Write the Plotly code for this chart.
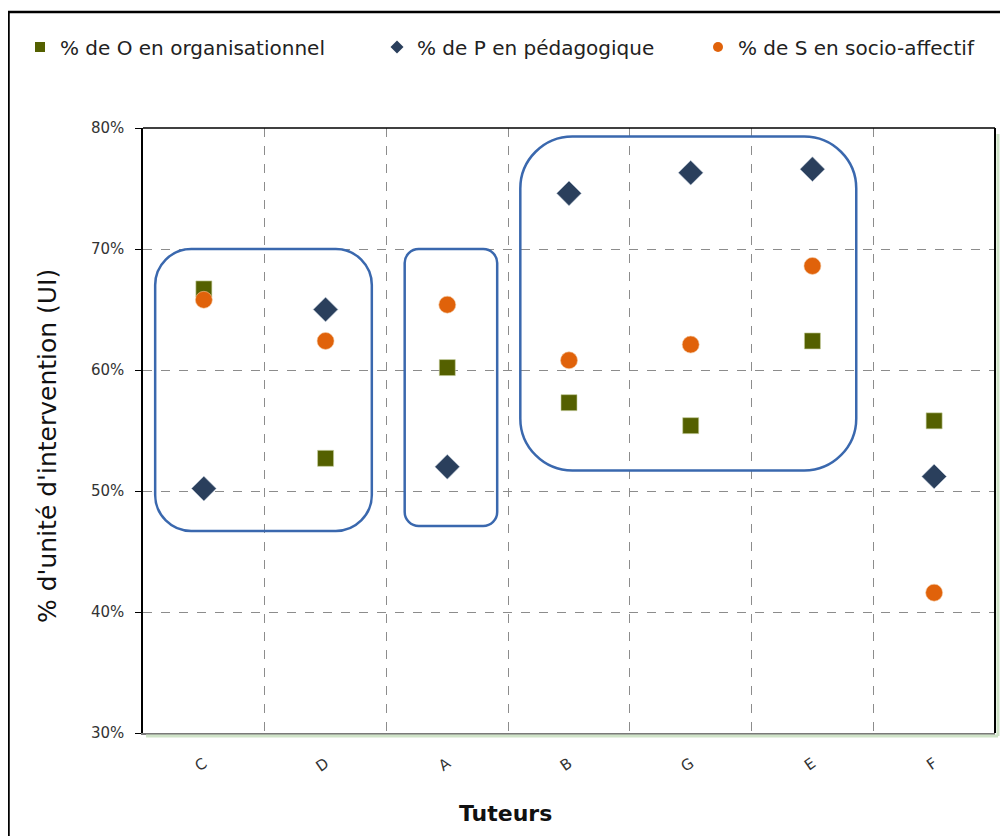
import plotly.graph_objects as go

# Tuteurs and percentages of intervention units
tuteurs = ["C", "D", "A", "B", "G", "E", "F"]
pct_organisationnel = [66.7, 52.7, 60.2, 57.3, 55.4, 62.4, 55.8]
pct_pedagogique = [50.2, 65.0, 52.0, 74.6, 76.3, 76.6, 51.2]
pct_socio_affectif = [65.8, 62.4, 65.4, 60.8, 62.1, 68.6, 41.6]

series_names = ["% de O en organisationnel", "% de P en pédagogique", "% de S en socio-affectif"]

# groups circled on the chart: (left, right in category index, bottom %, top %, corner radius px)
groups = [(-0.40, 1.38, 46.7, 70.0, 36), (1.65, 2.41, 47.1, 70.0, 14), (2.60, 5.36, 51.7, 79.3, 52)]

# page has an 8px body margin, so the figure is drawn 8px smaller
W, H = 1000, 828
L, R, T, B = 135, 13, 120, 103
PW, PH = W - L - R, H - T - B
px_x = PW / 7.0
px_y = PH / 50.0


def rounded_rect(x0, x1, y0, y1, r):
    rx, ry = r / px_x, r / px_y
    k = 0.45
    return (f"M {x0+rx},{y1} L {x1-rx},{y1} "
            f"C {x1-rx*k},{y1} {x1},{y1-ry*k} {x1},{y1-ry} "
            f"L {x1},{y0+ry} C {x1},{y0+ry*k} {x1-rx*k},{y0} {x1-rx},{y0} "
            f"L {x0+rx},{y0} C {x0+rx*k},{y0} {x0},{y0+ry*k} {x0},{y0+ry} "
            f"L {x0},{y1-ry} C {x0},{y1-ry*k} {x0+rx*k},{y1} {x0+rx},{y1} Z")


def px(x):
    return (x - L) / PW


def py(y):
    return (T + PH - y) / PH


styles = [
    dict(symbol="square", size=16, color="#546000", line=dict(width=0.6, color="#c8d0a0")),
    dict(symbol="diamond", size=19, color="#2a3f5c", line=dict(width=0.6, color="#b8c4d4")),
    dict(symbol="circle", size=17, color="#e0620a", line=dict(width=0.6, color="#f4c8a0")),
]
legend_sizes = [10, 10, 10]
legend_ids = ["legend", "legend2", "legend3"]
values = [pct_organisationnel, pct_pedagogique, pct_socio_affectif]

fig = go.Figure()
for name, vals, st in zip(series_names, values, styles):
    fig.add_trace(go.Scatter(x=tuteurs, y=vals, mode="markers", name=name, marker=st, showlegend=False))
# small legend keys, one legend per series so each can sit where it does in the original
for name, st, size, lid in zip(series_names, styles, legend_sizes, legend_ids):
    fig.add_trace(go.Scatter(x=[None], y=[None], mode="markers", name=name, legend=lid,
                             marker=dict(symbol=st["symbol"], size=size, color=st["color"])))

for x0, x1, y0, y1, r in groups:
    fig.add_shape(type="path", xref="x", yref="y", path=rounded_rect(x0, x1, y0, y1, r),
                  line=dict(color="#3a68ae", width=2.5))

# outer chart frame and plot shadow
fig.add_shape(type="rect", xref="paper", yref="paper", x0=px(0.5), x1=px(W + 20),
              y0=py(H + 20), y1=py(4), line=dict(color="black", width=2.5))
fig.add_shape(type="line", xref="paper", yref="paper", x0=1 + 3 / PW, x1=1 + 3 / PW, y0=-3 / PH, y1=1 - 6 / PH,
              line=dict(color="#cfe3c8", width=3))
fig.add_shape(type="line", xref="paper", yref="paper", x0=3 / PW, x1=1 + 3 / PW, y0=-3 / PH, y1=-3 / PH,
              line=dict(color="#cfe3c8", width=3))

fig.add_annotation(text="<b>Tuteurs</b>", xref="paper", yref="paper", x=px(497), y=py(805),
                   xanchor="center", yanchor="middle",
                   showarrow=False, font=dict(family="DejaVu Sans", size=22, color="#111111"))
fig.add_annotation(text="% d'unité d'intervention (UI)", xref="paper", yref="paper", x=px(39), y=py(438),
                   xanchor="center", yanchor="middle", textangle=-90, showarrow=False,
                   font=dict(family="DejaVu Sans", size=25, color="#111111"))

legend_common = dict(orientation="h", xanchor="left", yanchor="middle", y=py(39),
                     font=dict(size=20, color="#222222"), itemwidth=30, bgcolor="rgba(0,0,0,0)")

fig.update_layout(
    width=W, height=H, template="plotly_white",
    margin=dict(l=L, r=R, t=T, b=B),
    paper_bgcolor="white", plot_bgcolor="white",
    font=dict(family="DejaVu Sans", color="#333333"),
    legend=dict(x=px(12), **legend_common),
    legend2=dict(x=px(369), **legend_common),
    legend3=dict(x=px(690), **legend_common),
    xaxis=dict(type="category", range=[-0.5, 6.5], tickson="boundaries", showgrid=True, griddash="dash",
               gridcolor="#8c8c8c", gridwidth=1, ticks="", tickangle=-35, ticklabelstandoff=14,
               tickfont=dict(size=15, color="#333333"), showline=True, linecolor="#7a7a7a", linewidth=2,
               mirror=False, zeroline=False),
    yaxis=dict(range=[30, 80], dtick=10, ticksuffix="%", showgrid=True, griddash="dash", gridcolor="#8c8c8c",
               gridwidth=1, ticks="outside", ticklen=6, tickcolor="black", showline=True, linecolor="black",
               linewidth=1.5, tickfont=dict(size=15, color="#333333"), zeroline=False, ticklabelstandoff=8),
)
# top and right borders of the plot area
fig.add_shape(type="line", xref="paper", yref="paper", x0=0, x1=1, y0=1, y1=1, line=dict(color="black", width=1.5))
fig.add_shape(type="line", xref="paper", yref="paper", x0=1, x1=1, y0=0, y1=1, line=dict(color="black", width=2))

fig.write_html("out.html")
